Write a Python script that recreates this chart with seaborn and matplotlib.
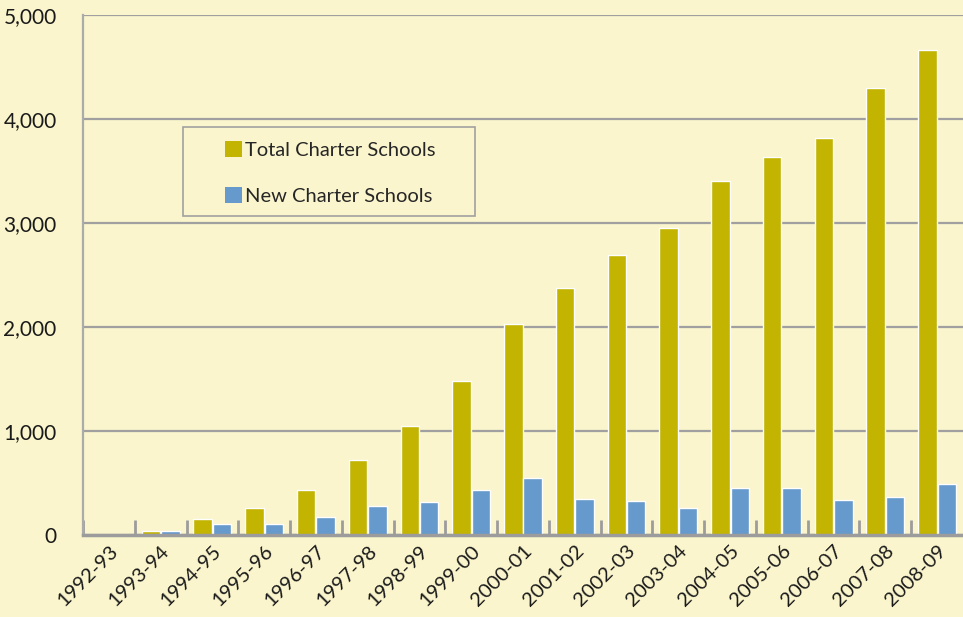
import matplotlib
matplotlib.use("Agg")
import matplotlib.pyplot as plt
from matplotlib.patches import Rectangle
from matplotlib.ticker import FuncFormatter, FixedLocator
import seaborn as sns
import pandas as pd

years = ['1992-93', '1993-94', '1994-95', '1995-96', '1996-97', '1997-98',
         '1998-99', '1999-00', '2000-01', '2001-02', '2002-03', '2003-04',
         '2004-05', '2005-06', '2006-07', '2007-08', '2008-09']
total_schools = [2, 36, 154, 260, 428, 717, 1045, 1479, 2026, 2373,
                 2691, 2952, 3405, 3636, 3819, 4302, 4668]
new_schools = [2, 34, 106, 106, 177, 283, 322, 428, 548, 346,
               327, 260, 452, 452, 337, 365, 490]
series_names = ['Total Charter Schools', 'New Charter Schools']

bg = '#FAF5CC'
grid_col = '#A0A0A0'
colors = {'Total Charter Schools': '#C2B400', 'New Charter Schools': '#6699CC'}

df = pd.DataFrame({
    'year': years * 2,
    'schools': total_schools + new_schools,
    'series': [series_names[0]] * len(years) + [series_names[1]] * len(years),
})

sns.set_style('white')
plt.rcParams['font.family'] = ['Lato', 'DejaVu Sans']

fig = plt.figure(figsize=(9.63, 6.17), dpi=100, facecolor=bg)
ax = fig.add_axes([83 / 963, 1 - 535 / 617, 880 / 963, 520 / 617])
ax.set_facecolor(bg)

sns.barplot(data=df, x='year', y='schools', hue='series', palette=colors,
            width=0.75, gap=0.05, saturation=1, ax=ax, legend=False)

ax.set_ylim(0, 5000)
ax.set_xlim(-0.5, len(years) - 0.5)
ax.set_yticks(range(0, 5001, 1000))
ax.yaxis.set_major_formatter(FuncFormatter(lambda v, p: f'{int(v):,}'))
ax.yaxis.grid(True, color=grid_col, linewidth=1.6)
ax.set_axisbelow(True)
ax.set_xlabel('')
ax.set_ylabel('')

ax.tick_params(axis='y', length=0, pad=19, labelsize=15, labelcolor='#1a1a1a')
ax.tick_params(axis='x', which='major', length=0, pad=5, labelsize=14.5,
               labelcolor='#1a1a1a')
plt.setp(ax.get_xticklabels(), rotation=45, ha='right', rotation_mode='anchor')

# small separator ticks between categories
ax.xaxis.set_minor_locator(FixedLocator([i - 0.5 for i in range(len(years))]))
ax.tick_params(axis='x', which='minor', bottom=True, direction='in',
               length=11, width=2, color='#9C9C9C')

for s in ['top', 'right']:
    ax.spines[s].set_visible(False)
ax.spines['left'].set_color('#ABABAB')
ax.spines['left'].set_linewidth(1.6)
ax.spines['bottom'].set_color('#9C9C9C')
ax.spines['bottom'].set_linewidth(2.5)

# legend with its own box
handles = [Rectangle((0, 0), 1, 1, facecolor=colors[n], edgecolor='none')
           for n in series_names]
ax.legend(handles, series_names, loc='center left',
          bbox_to_anchor=((225 - 83) / 880, (535 - 173) / 520),
          frameon=False, fontsize=14.5, handlelength=0.85, handleheight=0.85,
          handletextpad=0.15, labelspacing=1.4, borderpad=0, borderaxespad=0)
ax.add_patch(Rectangle(((183 - 83) / 880, (535 - 216) / 520), 292 / 880, 89 / 520,
                       transform=ax.transAxes, facecolor='none',
                       edgecolor='#A0A0A0', linewidth=1.2, zorder=5))

fig.savefig('out.png', dpi=100, facecolor=bg)
